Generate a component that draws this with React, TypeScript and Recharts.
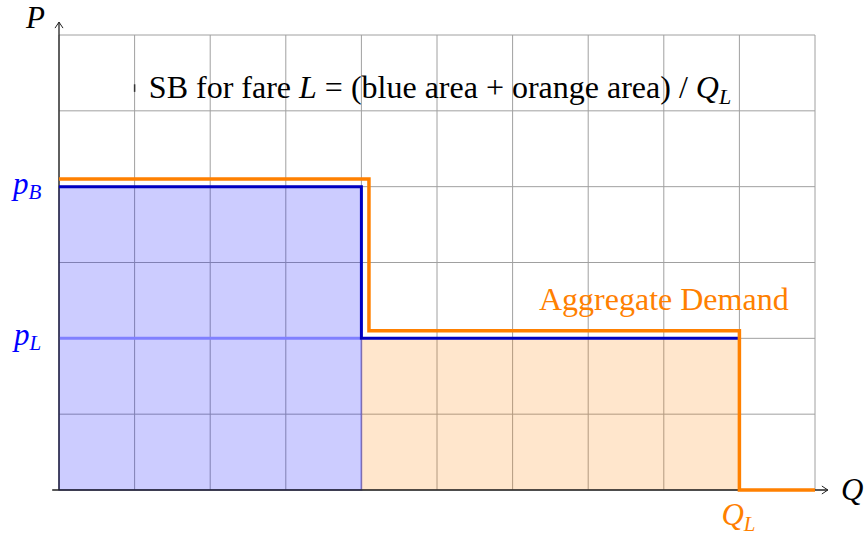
import React from 'react';
import {
  ComposedChart,
  Line,
  XAxis,
  YAxis,
  CartesianGrid,
  ReferenceArea,
  ReferenceLine,
  ReferenceDot,
} from 'recharts';

// ---- data ----
const gridQ = [0, 1, 2, 3, 4, 5, 6, 7, 8, 9, 10];
const gridP = [0, 1, 2, 3, 4, 5, 6];

const pB = 4;
const pL = 2;
const qB = 4;
const qL = 9;

// willingness-to-pay step (blue)
const blueQ = [0, 4, 4, 9];
const blueP = [4, 4, 2, 2];

// aggregate demand step (orange), drawn slightly offset
const demandQ = [0, 4.1, 4.1, 9, 9, 10];
const demandP = [4.1, 4.1, 2.1, 2.1, 0, 0];

const blueStep = blueQ.map((q, i) => ({ q, p: blueP[i] }));
const demandStep = demandQ.map((q, i) => ({ q, p: demandP[i] }));

const SERIF = '"Liberation Serif", "DejaVu Serif", serif';
const BLUE = '#0000ff';
const ORANGE = '#ff8000';
const FS = 31;

function axisArrow(props: any) {
  const { x1, y1, x2, y2 } = props;
  const horizontal = Math.abs(y2 - y1) < Math.abs(x2 - x1);
  const head = horizontal
    ? `M${x2 - 6},${y2 - 4} L${x2},${y2} L${x2 - 6},${y2 + 4}`
    : `M${x2 - 4},${y2 + 6} L${x2},${y2} L${x2 + 4},${y2 + 6}`;
  return (
    <g>
      <line x1={x1} y1={y1} x2={x2} y2={y2} stroke="#222" strokeWidth={1.3} />
      <path d={head} fill="none" stroke="#222" strokeWidth={1} />
    </g>
  );
}

export default function App() {
  return (
    <div style={{ position: 'absolute', left: 0, top: 0, background: '#fff' }}>
      <ComposedChart
        width={867}
        height={535}
        margin={{ top: 35, right: 52, bottom: 45, left: 59 }}
      >
        <XAxis dataKey="q" type="number" domain={[0, 10]} ticks={gridQ} hide />
        <YAxis type="number" domain={[0, 6]} ticks={gridP} hide />
        <CartesianGrid stroke="#a0a0a0" strokeWidth={1} />

        {/* shaded areas */}
        <ReferenceArea x1={0} x2={qB} y1={0} y2={pB} fill={BLUE} fillOpacity={0.2} stroke={BLUE} strokeOpacity={0.3} strokeWidth={2} />
        <ReferenceArea x1={qB} x2={qL} y1={0} y2={pL} fill={ORANGE} fillOpacity={0.2} stroke="none" />

        {/* p_L line inside blue block */}
        <ReferenceLine segment={[{ x: 0, y: pL }, { x: qB, y: pL }]} stroke="#8080ff" strokeWidth={3} />

        {/* axes */}
        <ReferenceLine segment={[{ x: -0.09, y: 0 }, { x: 10.17, y: 0 }]} ifOverflow="visible" shape={axisArrow} />
        <ReferenceLine segment={[{ x: 0, y: 0 }, { x: 0, y: 6.17 }]} ifOverflow="visible" shape={axisArrow} />

        <Line data={blueStep} dataKey="p" type="linear" stroke="#0000c0" strokeWidth={3} dot={false} isAnimationActive={false} />
        <Line data={demandStep} dataKey="p" type="linear" stroke={ORANGE} strokeWidth={3.5} dot={false} isAnimationActive={false} />

        {/* small node mark */}
        <ReferenceLine segment={[{ x: 1, y: 5.25 }, { x: 1, y: 5.35 }]} stroke="#333" strokeWidth={1.5} />

        {/* title */}
        <ReferenceDot
          x={5.04}
          y={5.3}
          r={0}
          shape={(p: any) => (
            <text x={p.cx} y={p.cy + 10} textAnchor="middle" fontFamily={SERIF} fontSize={32} fill="#000">
              SB for fare <tspan fontStyle="italic">L</tspan> = (blue area + orange area) / <tspan fontStyle="italic">Q</tspan>
              <tspan fontStyle="italic" fontSize={22} dy={6}>L</tspan>
            </text>
          )}
        />

        <ReferenceDot
          x={8}
          y={2.37}
          r={0}
          shape={(p: any) => (
            <text x={p.cx} y={p.cy} textAnchor="middle" fontFamily={SERIF} fontSize={32} fill={ORANGE}>
              Aggregate Demand
            </text>
          )}
        />

        {/* axis labels */}
        <ReferenceDot
          x={0}
          y={pB}
          r={0}
          ifOverflow="visible"
          shape={(p: any) => (
            <text x={p.cx - 46} y={p.cy + 7} fontFamily={SERIF} fontSize={FS} fill={BLUE} fontStyle="italic">
              p<tspan fontSize={21} dy={5}>B</tspan>
            </text>
          )}
        />
        <ReferenceDot
          x={0}
          y={pL}
          r={0}
          ifOverflow="visible"
          shape={(p: any) => (
            <text x={p.cx - 45} y={p.cy + 7} fontFamily={SERIF} fontSize={FS} fill={BLUE} fontStyle="italic">
              p<tspan fontSize={21} dy={5}>L</tspan>
            </text>
          )}
        />
        <ReferenceDot
          x={qL}
          y={0}
          r={0}
          ifOverflow="visible"
          shape={(p: any) => (
            <text x={p.cx - 18} y={p.cy + 35} fontFamily={SERIF} fontSize={FS} fill={ORANGE} fontStyle="italic">
              Q<tspan fontSize={21} dy={6}>L</tspan>
            </text>
          )}
        />
        <ReferenceDot
          x={0}
          y={6}
          r={0}
          ifOverflow="visible"
          shape={(p: any) => (
            <text x={p.cx - 33} y={p.cy - 7} fontFamily={SERIF} fontSize={FS} fill="#000" fontStyle="italic">
              P
            </text>
          )}
        />
        <ReferenceDot
          x={10}
          y={0}
          r={0}
          ifOverflow="visible"
          shape={(p: any) => (
            <text x={p.cx + 26} y={p.cy + 10} fontFamily={SERIF} fontSize={FS} fill="#000" fontStyle="italic">
              Q
            </text>
          )}
        />
      </ComposedChart>
    </div>
  );
}
